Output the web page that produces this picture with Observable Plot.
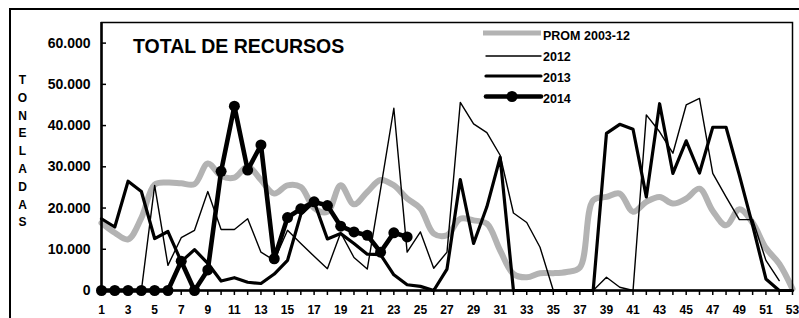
<!DOCTYPE html>
<html>
<head>
<meta charset="utf-8">
<script src="https://cdn.jsdelivr.net/npm/d3@7"></script>
<script src="https://cdn.jsdelivr.net/npm/@observablehq/plot@0.6"></script>
<style>
  html, body { margin: 0; padding: 0; background: #fff; overflow: hidden; }
  #wrap { position: relative; width: 799px; height: 318px; overflow: hidden; font-family: "Liberation Sans", Arial, sans-serif; }
  #border { position: absolute; left: 9px; top: 8px; width: 900px; height: 400px; border: 2px solid #000; box-sizing: border-box; }
  #chart { position: absolute; left: 0; top: 0; }
  #overlay { position: absolute; left: 0; top: 0; pointer-events: none; }
</style>
</head>
<body>
<div id="wrap">
  <div id="border"></div>
  <div id="chart"></div>
  <svg id="overlay" width="799" height="318"></svg>
</div>
<script>
// ---- data ----
const weeks = d3.range(1, 54);
const seriesNames = ["PROM 2003-12", "2012", "2013", "2014"];
const titleText = "TOTAL DE RECURSOS";
const yAxisTitle = "TONELADAS";
const yTicks = [0, 10000, 20000, 30000, 40000, 50000, 60000];

const prom = [16400, 14000, 12400, 17600, 25700, 26200, 26000, 25800, 30800, 27800,
              27400, 30100, 26800, 23500, 25500, 25100, 20000, 19100, 25500, 20900,
              23900, 26800, 25500, 22300, 19900, 13800, 13400, 17400, 17000, 16200,
              9700, 4000, 3200, 4200, 4200, 4500, 5600, 21900, 22700, 23500,
              19100, 21500, 22700, 21100, 22300, 24700, 19300, 15800, 19700, 16400,
              10300, 6500, 400];
const y2012 = [0, 0, 0, 0, 25500, 6100, 12800, 14600, 24000, 14800,
               14800, 17400, 9300, 7300, 14600, 11400, 8300, 5300, 14000, 8000,
               5200, 24500, 44200, 9300, 14200, 5400, 9300, 45600, 40400, 38300,
               32800, 18800, 16500, 10500, 0, 0, 0, 0, 3200, 800,
               0, 42600, 38500, 33300, 45000, 46600, 28400, 22700, 17200, 17200,
               7300, 2400];
const y2013 = [17400, 15400, 26500, 24000, 12600, 14300, 7000, 9900, 6600, 2300,
               3100, 2000, 1700, 4000, 7300, 18500, 21500, 12500, 13800, 11400,
               8800, 8700, 3800, 1400, 1000, 0, 5200, 26900, 11400, 20300,
               32300, 0, 0, 0, 0, 0, 0, 0, 38100, 40300,
               39100, 22700, 45300, 28400, 36300, 28500, 39600, 39600, 28000, 15800,
               2800, 0, 0];
const y2014 = [0, 0, 0, 0, 0, 0, 7100, 0, 5000, 28900,
               44700, 29200, 35300, 7700, 17700, 19800, 21500, 20600, 15600, 14200,
               13400, 9300, 14000, 13000];

// ---- styles ----
const styleOf = {
  "PROM 2003-12": {stroke: "#b3b3b3", width: 6, dot: false},
  "2012": {stroke: "#000", width: 1.4, dot: false},
  "2013": {stroke: "#000", width: 3.2, dot: false},
  "2014": {stroke: "#000", width: 4.6, dot: true}
};
const font = '"Liberation Sans", Arial, sans-serif';

const rows = vals => vals.map((v, i) => ({w: weeks[i], v}));
const fmt = d => d3.format(",")(d).replace(/,/g, ".");

const chart = Plot.plot({
  width: 799,
  height: 318,
  marginLeft: 101,
  marginRight: 7,
  marginTop: 22,
  marginBottom: 28,
  x: {domain: [1, 53]},
  y: {domain: [0, 65000]},
  style: {fontFamily: font, fontWeight: "bold", fontSize: "12px", color: "#000", background: "transparent", overflow: "visible"},
  marks: [
    Plot.line(rows(prom), {x: "w", y: "v", stroke: styleOf["PROM 2003-12"].stroke, strokeWidth: styleOf["PROM 2003-12"].width, curve: "catmull-rom"}),
    Plot.line(rows(y2012), {x: "w", y: "v", stroke: styleOf["2012"].stroke, strokeWidth: styleOf["2012"].width}),
    Plot.line(rows(y2013), {x: "w", y: "v", stroke: styleOf["2013"].stroke, strokeWidth: styleOf["2013"].width}),
    Plot.line(rows(y2014), {x: "w", y: "v", stroke: styleOf["2014"].stroke, strokeWidth: styleOf["2014"].width}),
    Plot.dot(rows(y2014), {x: "w", y: "v", r: 5.5, fill: "#000"}),
    Plot.frame({stroke: "#000", strokeWidth: 1.5}),
    Plot.ruleX([1], {stroke: "#000", strokeWidth: 2.5}),
    Plot.ruleY([0], {stroke: "#000", strokeWidth: 2.5}),
    Plot.axisY({ticks: yTicks, tickSize: 5, dx: 5, tickFormat: () => "", label: null, strokeWidth: 1.5}),
    Plot.axisY({ticks: yTicks, tickSize: 0, tickPadding: 11, tickFormat: fmt, label: null, fontSize: 14}),
    Plot.axisX({ticks: weeks, tickSize: 5, tickPadding: 10, tickFormat: d => d % 2 ? String(d) : "", label: null, strokeWidth: 1.5, fontSize: 12})
  ]
});
document.getElementById("chart").appendChild(chart);

// ---- overlay: title, legend, vertical axis title ----
const ov = d3.select("#overlay");
ov.append("text")
  .attr("x", 133).attr("y", 53.3)
  .attr("font-family", font).attr("font-weight", "bold").attr("font-size", 19.5)
  .text(titleText);

const legendY = [33, 56, 76, 96.5];
const legendBase = [40, 61, 82, 102.7];
seriesNames.forEach((name, i) => {
  const s = styleOf[name];
  const x0 = i === 0 ? 483 : 486;
  ov.append("line")
    .attr("x1", x0).attr("x2", 541)
    .attr("y1", legendY[i]).attr("y2", legendY[i])
    .attr("stroke", s.stroke).attr("stroke-width", i === 0 ? 5 : s.width)
    .attr("stroke-linecap", i === 0 ? "butt" : "round");
  if (s.dot) {
    ov.append("circle").attr("cx", 512).attr("cy", legendY[i]).attr("r", 5.5).attr("fill", "#000");
  }
  ov.append("text")
    .attr("x", 543).attr("y", legendBase[i])
    .attr("font-family", font).attr("font-weight", "bold").attr("font-size", 12.5)
    .text(name);
});

yAxisTitle.split("").forEach((ch, i) => {
  ov.append("text")
    .attr("x", 22.5).attr("y", 84 + i * 17.8)
    .attr("text-anchor", "middle")
    .attr("font-family", font).attr("font-weight", "bold").attr("font-size", 12)
    .text(ch);
});
</script>
</body>
</html>
